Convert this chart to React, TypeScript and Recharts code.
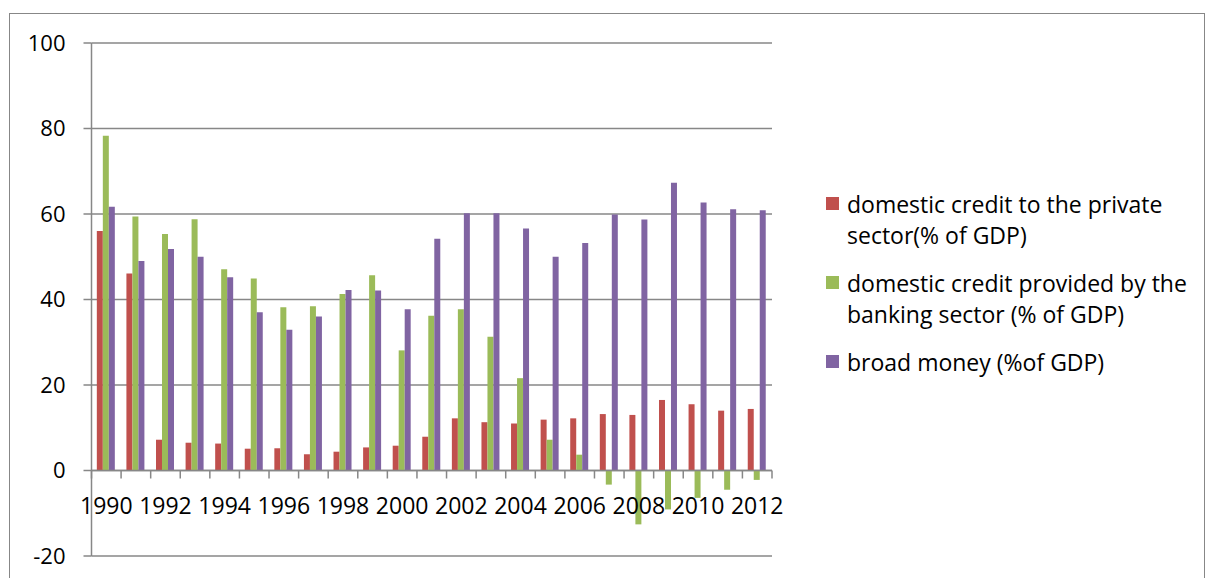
import React from 'react';
import { BarChart, Bar, XAxis, YAxis, CartesianGrid, Legend, ReferenceLine } from 'recharts';

const years = ['1990','1991','1992','1993','1994','1995','1996','1997','1998','1999','2000','2001','2002','2003','2004','2005','2006','2007','2008','2009','2010','2011','2012'];
const privateCredit = [56.0,46.1,7.2,6.5,6.3,5.1,5.2,3.8,4.4,5.4,5.8,7.9,12.2,11.3,11.0,11.9,12.2,13.2,13.0,16.5,15.5,14.0,14.4];
const bankingCredit = [78.3,59.4,55.3,58.8,47.1,44.9,38.2,38.4,41.3,45.7,28.1,36.2,37.7,31.3,21.6,7.2,3.7,-3.3,-12.6,-9.1,-6.4,-4.5,-2.2];
const broadMoney = [61.7,49.0,51.8,50.0,45.2,37.0,32.9,36.0,42.2,42.1,37.7,54.2,60.2,60.2,56.6,50.0,53.2,59.9,58.7,67.3,62.7,61.1,60.9];
const yTicks = [-20, 0, 20, 40, 60, 80, 100];

const seriesNames = [
  'domestic credit to the private sector(% of GDP)',
  'domestic credit provided by the banking sector (% of GDP)',
  'broad money (%of GDP)',
];

const data = years.map((year, i) => ({
  year,
  privateCredit: privateCredit[i],
  bankingCredit: bankingCredit[i],
  broadMoney: broadMoney[i],
}));

const FONT = '"Open Sans", sans-serif';
const GRID = '#878787';
const W = 1206;
const H = 578;
const PLOT_L = 91.5;
const PLOT_R = 772;
const PLOT_T = 43;
const PLOT_B = 556;
const YAXIS_W = 60;
const PLOT_W = PLOT_R - PLOT_L;
const PLOT_H = PLOT_B - PLOT_T;
const Y_MIN = -20;
const Y_MAX = 100;
const ZERO_Y = PLOT_T + (PLOT_H * Y_MAX) / (Y_MAX - Y_MIN);
const BAND = PLOT_W / years.length;

function XTick(props: any) {
  const { x, payload, index } = props;
  const i = typeof payload?.index === 'number' ? payload.index : index;
  const left = x - BAND / 2;
  return (
    <g>
      <line x1={left} x2={left} y1={ZERO_Y} y2={ZERO_Y + 8} stroke={GRID} strokeWidth={1.5} />
      {i === years.length - 1 && (
        <line x1={x + BAND / 2} x2={x + BAND / 2} y1={ZERO_Y} y2={ZERO_Y + 8} stroke={GRID} strokeWidth={1.5} />
      )}
      {i % 2 === 0 && (
        <text x={x} y={ZERO_Y + 43} textAnchor="middle" fontSize={23} fontFamily={FONT} fill="#000">
          {payload.value}
        </text>
      )}
    </g>
  );
}

function LegendContent(props: any) {
  const payload = [...(props.payload || [])].sort(
    (a: any, b: any) => seriesNames.indexOf(a.value) - seriesNames.indexOf(b.value)
  );
  return (
    <div style={{ fontFamily: FONT }}>
      {payload.map((item: any, idx: number) => (
        <div key={idx} style={{ display: 'flex', alignItems: 'flex-start', marginBottom: 17 }}>
          <div style={{ width: 13, height: 13, background: item.color, marginTop: 8, marginRight: 8, flex: '0 0 auto' }} />
          <div style={{ width: 352, fontSize: 23, lineHeight: '31px', color: '#000' }}>{item.value}</div>
        </div>
      ))}
    </div>
  );
}

export default function App() {
  return (
    <div style={{ position: 'absolute', left: 0, top: 0, width: W, height: H, overflow: 'hidden', background: '#fff' }}>
      <div
        style={{
          position: 'absolute',
          left: 9,
          top: 13,
          width: 1196,
          height: 620,
          border: `1.5px solid ${GRID}`,
          boxSizing: 'border-box',
        }}
      />
      <div style={{ position: 'absolute', left: 0, top: 0 }}>
        <BarChart
          width={W}
          height={H}
          data={data}
          margin={{ top: PLOT_T, right: W - PLOT_R, bottom: H - PLOT_B - 1, left: PLOT_L - YAXIS_W }}
          barCategoryGap="18%"
          barGap={0}
        >
          <CartesianGrid vertical={false} stroke={GRID} strokeWidth={1.5} />
          <XAxis
            dataKey="year"
            interval={0}
            axisLine={false}
            tickLine={false}
            height={1}
            tick={<XTick />}
          />
          <YAxis
            width={YAXIS_W}
            domain={[Y_MIN, Y_MAX]}
            ticks={yTicks}
            interval={0}
            axisLine={{ stroke: GRID, strokeWidth: 1.5 }}
            tickLine={{ stroke: GRID, strokeWidth: 1.5 }}
            tickSize={8}
            tickMargin={18}
            tick={{ fill: '#000', fontSize: 22, fontFamily: FONT }}
          />
          <Bar dataKey="privateCredit" name={seriesNames[0]} fill="#C0504D" isAnimationActive={false} />
          <Bar dataKey="bankingCredit" name={seriesNames[1]} fill="#9BBB59" isAnimationActive={false} />
          <Bar dataKey="broadMoney" name={seriesNames[2]} fill="#8064A2" isAnimationActive={false} />
          <ReferenceLine y={0} stroke={GRID} strokeWidth={1.5} />
          <Legend
            layout="vertical"
            align="center"
            verticalAlign="middle"
            itemSorter={null as any}
            wrapperStyle={{ left: 826, top: 189, width: 380 }}
            content={<LegendContent />}
          />
        </BarChart>
      </div>
    </div>
  );
}
